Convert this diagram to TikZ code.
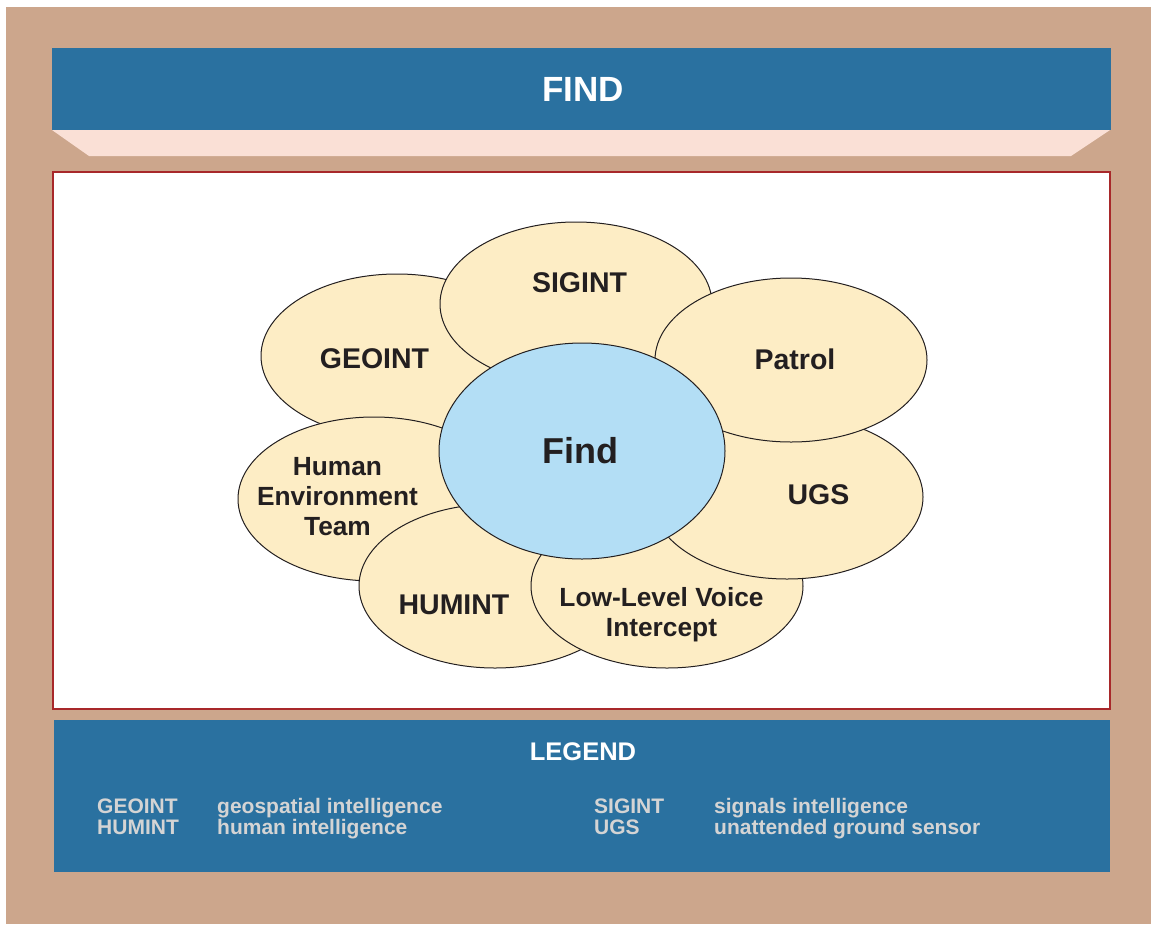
\documentclass[tikz,border=0pt]{standalone}
\usepackage{fontspec}
\setmainfont{Liberation Sans}
\usetikzlibrary{shapes.geometric}
\definecolor{tanbg}{RGB}{204,166,140}
\definecolor{bannerblue}{RGB}{42,113,160}
\definecolor{pinkband}{RGB}{250,224,214}
\definecolor{petalfill}{RGB}{253,237,197}
\definecolor{findfill}{RGB}{179,222,245}
\definecolor{darktext}{RGB}{35,31,32}
\definecolor{legendtext}{RGB}{212,212,212}
\definecolor{boxred}{RGB}{168,40,42}
\tikzset{
  petal/.style={ellipse, draw=darktext, line width=1pt, fill=petalfill,
    minimum width=272pt, minimum height=164pt, inner sep=0pt},
  findell/.style={ellipse, draw=darktext, line width=1pt, fill=findfill,
    minimum width=286pt, minimum height=216pt, inner sep=0pt},
  ptext/.style={text=darktext, font=\bfseries\fontsize{28.5}{30}\selectfont, align=center, inner sep=0pt},
  ptextsm/.style={text=darktext, font=\bfseries\fontsize{26.3}{30}\selectfont, align=center, inner sep=0pt},
  findtext/.style={text=darktext, font=\bfseries\fontsize{36}{40}\selectfont, inner sep=0pt},
  titletext/.style={text=white, font=\bfseries\fontsize{35}{38}\selectfont, inner sep=0pt},
  legtitle/.style={text=white, font=\bfseries\fontsize{25.5}{30}\selectfont, inner sep=0pt},
  legtext/.style={text=legendtext, font=\bfseries\fontsize{21}{21}\selectfont, inner sep=0pt, anchor=base west},
}
\begin{document}
\begin{tikzpicture}[x=1pt, y=-1pt]
\useasboundingbox (0,0) rectangle (1151,924);
\fill[white] (0,0) rectangle (1151,924);
\fill[tanbg] (6,7) rectangle (1151,924);
% title banner
\fill[bannerblue] (52,48) rectangle (1111,130);
\fill[pinkband] (52,130) -- (1110,130) -- (1071,156) -- (89,156) -- cycle;
\node[titletext] (title) at (583,89) {FIND};
% main white panel
\draw[boxred, fill=white, line width=1.2pt] (53,172) rectangle (1110,709);
% petals
\node[petal] (geoint) at (397,356) {};
\node[petal] (sigint) at (576,304) {};
\node[petal] (het) at (374,499) {};
\node[petal] (humint) at (495,586) {};
\node[petal] (llvi) at (667,586) {};
\node[petal] (ugs) at (787,497) {};
\node[petal] (patrol) at (791,360) {};
\node[findell] (find) at (582,451) {};
% labels
\node[ptext] (geointT) at (374.5,359) {GEOINT};
\node[ptext] (sigintT) at (579.5,282.5) {SIGINT};
\node[ptext] (patrolT) at (795,359) {Patrol};
\node[ptext] (ugsT) at (818.5,495) {UGS};
\node[ptext] (humintT) at (454,605) {HUMINT};
\node[ptextsm] (hetT) at (337.5,497) {Human\\Environment\\Team};
\node[ptextsm] (llviT) at (661.5,615) {Low-Level Voice\\Intercept};
\node[findtext] (findT) at (580,451) {Find};
% legend
\fill[bannerblue] (54,720) rectangle (1110,872);
\node[legtitle] (legT) at (583,752) {LEGEND};
\node[legtext] (l1a) at (97,813) {GEOINT};
\node[legtext] (l1b) at (217,813) {geospatial intelligence};
\node[legtext] (l2a) at (97,834) {HUMINT};
\node[legtext] (l2b) at (217,834) {human intelligence};
\node[legtext] (l3a) at (594,813) {SIGINT};
\node[legtext] (l3b) at (714,813) {signals intelligence};
\node[legtext] (l4a) at (594,834) {UGS};
\node[legtext] (l4b) at (714,834) {unattended ground sensor};
\end{tikzpicture}
\end{document}
